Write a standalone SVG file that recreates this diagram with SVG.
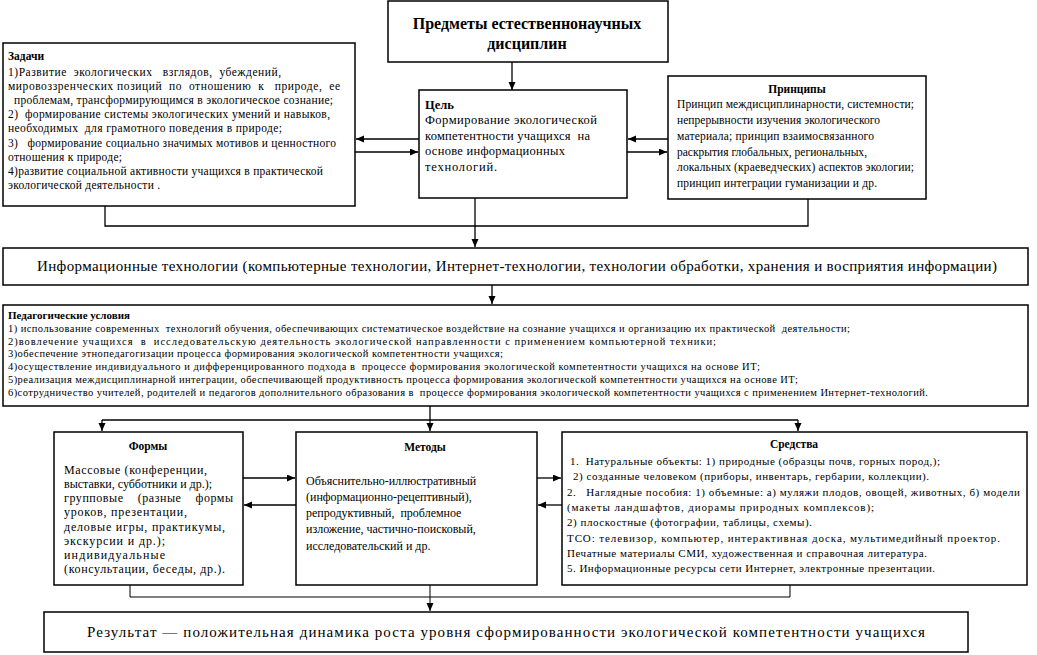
<svg xmlns="http://www.w3.org/2000/svg" width="1037" height="655" viewBox="0 0 1037 655" font-family="'Liberation Serif', 'Times New Roman', 'DejaVu Serif', serif">
<style>
.box{fill:#fff;stroke:#000;stroke-width:1.5}
.c{fill:none;stroke:#000;stroke-width:1.3}
.c2{fill:none;stroke:#000;stroke-width:1}
text{font-family:'Liberation Serif','Times New Roman','DejaVu Serif',serif;fill:#000}
.b{font-weight:bold}
.s115{font-size:11.5px}
.s12{font-size:12px}
.s125{font-size:12.5px}
.s11{font-size:11px}
.s105{font-size:10.5px}
.s15{font-size:15px}
.s16{font-size:16px}
</style>
<defs>
<marker id="ar" markerUnits="userSpaceOnUse" markerWidth="8" markerHeight="8" refX="8" refY="3.5" orient="auto">
<path d="M0,0 L8,3.5 L0,7 z" fill="#000"/>
</marker>
</defs>
<rect width="1037" height="655" fill="#fff"/>

<g id="connectors">
<line class="c" x1="512" y1="62" x2="512" y2="90" marker-end="url(#ar)"/>
<line class="c" x1="419" y1="139" x2="356" y2="139" marker-end="url(#ar)"/>
<line class="c" x1="355" y1="152" x2="418" y2="152" marker-end="url(#ar)"/>
<line class="c" x1="668" y1="139" x2="628" y2="139" marker-end="url(#ar)"/>
<line class="c" x1="627" y1="152" x2="667" y2="152" marker-end="url(#ar)"/>
<polyline class="c" points="105,206 105,226 808,226 808,199"/>
<line class="c" x1="475" y1="198" x2="475" y2="247" marker-end="url(#ar)"/>
<line class="c" x1="492" y1="285" x2="492" y2="304" marker-end="url(#ar)"/>
<line class="c" x1="430" y1="406" x2="430" y2="431" marker-end="url(#ar)"/>
<line class="c" x1="102" y1="420" x2="798" y2="420"/>
<line class="c" x1="102" y1="420" x2="102" y2="431" marker-end="url(#ar)"/>
<line class="c" x1="798" y1="420" x2="798" y2="431" marker-end="url(#ar)"/>
<line class="c" x1="243" y1="478" x2="295" y2="478" marker-end="url(#ar)"/>
<line class="c" x1="296" y1="505" x2="244" y2="505" marker-end="url(#ar)"/>
<line class="c" x1="537" y1="478" x2="561" y2="478" marker-end="url(#ar)"/>
<line class="c" x1="562" y1="505" x2="538" y2="505" marker-end="url(#ar)"/>
<polyline class="c2" points="130,585 130,597 790,597 790,585"/>
<line class="c2" x1="430" y1="585" x2="430" y2="611" marker-end="url(#ar)"/>
</g>

<g id="predmety">
<rect class="box" x="388" y="1" width="280" height="61"/>
<text class="b s16" x="527" y="29" text-anchor="middle">Предметы естественнонаучных</text>
<text class="b s16" x="527" y="49" text-anchor="middle">дисциплин</text>
</g>

<g id="zadachi">
<rect class="box" x="3" y="43" width="352" height="163"/>
<text class="b s115" x="8" y="60">Задачи</text>
<text class="s115" x="8" y="76" xml:space="preserve" textLength="273">1)Развитие  экологических   взглядов,  убеждений,</text>
<text class="s115" x="8" y="90" xml:space="preserve" textLength="332">мировоззренческих позиций  по  отношению  к   природе,  ее</text>
<text class="s115" x="14" y="104" xml:space="preserve" textLength="319">проблемам, трансформирующимся в экологическое сознание;</text>
<text class="s115" x="8" y="118" xml:space="preserve" textLength="322">2)  формирование системы экологических умений и навыков,</text>
<text class="s115" x="8" y="132" xml:space="preserve" textLength="274">необходимых  для грамотного поведения в природе;</text>
<text class="s115" x="8" y="146.5" xml:space="preserve" textLength="328">3)   формирование социально значимых мотивов и ценностного</text>
<text class="s115" x="8" y="160.5" xml:space="preserve" textLength="114">отношения к природе;</text>
<text class="s115" x="8" y="174.5" xml:space="preserve" textLength="315">4)развитие социальной активности учащихся в практической</text>
<text class="s115" x="8" y="189" xml:space="preserve" textLength="152">экологической деятельности .</text>
</g>

<g id="cel">
<rect class="box" x="419" y="90" width="208" height="108"/>
<text class="b s125" x="425" y="109">Цель</text>
<text class="s125" x="425" y="124" textLength="172">Формирование экологической</text>
<text class="s125" x="425" y="139.5" xml:space="preserve" textLength="165">компетентности учащихся  на</text>
<text class="s125" x="425" y="155" textLength="140">основе информационных</text>
<text class="s125" x="425" y="170.5" textLength="72">технологий.</text>
</g>

<g id="principy">
<rect class="box" x="668" y="76" width="258" height="123"/>
<text class="b s115" x="797" y="93" text-anchor="middle">Принципы</text>
<text class="s115" x="677" y="108" textLength="237">Принцип междисциплинарности, системности;</text>
<text class="s115" x="677" y="124" textLength="203">непрерывности изучения экологического</text>
<text class="s115" x="677" y="139.5" textLength="197">материала; принцип взаимосвязанного</text>
<text class="s115" x="677" y="155.5" textLength="190">раскрытия глобальных, региональных,</text>
<text class="s115" x="677" y="171" textLength="237">локальных (краеведческих) аспектов экологии;</text>
<text class="s115" x="677" y="187" textLength="200">принцип интеграции гуманизации и др.</text>
</g>

<g id="it">
<rect class="box" x="3" y="248" width="1025" height="37"/>
<text class="s15" x="37" y="271" textLength="960">Информационные технологии (компьютерные технологии, Интернет-технологии, технологии обработки, хранения и восприятия информации)</text>
</g>

<g id="ped">
<rect class="box" x="3" y="305" width="1025" height="101"/>
<text class="b s11" x="8" y="318.5">Педагогические условия</text>
<text class="s105" x="8" y="332" xml:space="preserve" textLength="842">1) использование современных  технологий обучения, обеспечивающих систематическое воздействие на сознание учащихся и организацию их практической  деятельности;</text>
<text class="s105" x="8" y="344.7" xml:space="preserve" textLength="708">2)вовлечение учащихся  в  исследовательскую деятельность экологической направленности с применением компьютерной техники;</text>
<text class="s105" x="8" y="357.4" textLength="495">3)обеспечение этнопедагогизации процесса формирования экологической компетентности учащихся;</text>
<text class="s105" x="8" y="370.1" xml:space="preserve" textLength="752">4)осуществление индивидуального и дифференцированного подхода в  процессе формирования экологической компетентности учащихся на основе ИТ;</text>
<text class="s105" x="8" y="382.8" textLength="790">5)реализация междисциплинарной интеграции, обеспечивающей продуктивность процесса формирования экологической компетентности учащихся на основе ИТ;</text>
<text class="s105" x="8" y="395.5" xml:space="preserve" textLength="920">6)сотрудничество учителей, родителей и педагогов дополнительного образования в  процессе формирования экологической компетентности учащихся с применением Интернет-технологий.</text>
</g>

<g id="formy">
<rect class="box" x="54" y="432" width="189" height="153"/>
<text class="b s115" x="148" y="450" text-anchor="middle">Формы</text>
<text class="s12" x="64" y="474" textLength="143">Массовые (конференции,</text>
<text class="s12" x="64" y="488" textLength="148">выставки, субботники и др.);</text>
<text class="s12" x="64" y="502" xml:space="preserve" textLength="169">групповые    (разные    формы</text>
<text class="s12" x="64" y="516" textLength="123">уроков, презентации,</text>
<text class="s12" x="64" y="530.5" textLength="161">деловые игры, практикумы,</text>
<text class="s12" x="64" y="544.5" textLength="101">экскурсии и др.);</text>
<text class="s12" x="64" y="558.5" textLength="101">индивидуальные</text>
<text class="s12" x="64" y="573" textLength="161">(консультации, беседы, др.).</text>
</g>

<g id="metody">
<rect class="box" x="296" y="432" width="241" height="153"/>
<text class="b s115" x="425" y="451" text-anchor="middle">Методы</text>
<text class="s12" x="306" y="485">Объяснительно-иллюстративный</text>
<text class="s12" x="306" y="501">(информационно-рецептивный),</text>
<text class="s12" x="306" y="517" xml:space="preserve">репродуктивный,  проблемное</text>
<text class="s12" x="306" y="533">изложение, частично-поисковый,</text>
<text class="s12" x="306" y="550">исследовательский и др.</text>
</g>

<g id="sredstva">
<rect class="box" x="562" y="432" width="465" height="153"/>
<text class="b s115" x="794" y="448" text-anchor="middle">Средства</text>
<text class="s11" x="570" y="465" xml:space="preserve" textLength="370">1.  Натуральные объекты: 1) природные (образцы почв, горных пород,);</text>
<text class="s11" x="573" y="480" textLength="356">2) созданные человеком (приборы, инвентарь, гербарии, коллекции).</text>
<text class="s11" x="567" y="495.5" xml:space="preserve" textLength="453">2.   Наглядные пособия: 1) объемные: а) муляжи плодов, овощей, животных, б) модели</text>
<text class="s11" x="567" y="511" textLength="307">(макеты ландшафтов, диорамы природных комплексов);</text>
<text class="s11" x="567" y="526" textLength="245">2) плоскостные (фотографии, таблицы, схемы).</text>
<text class="s11" x="567" y="541.5" textLength="433">ТСО: телевизор, компьютер, интерактивная доска, мультимедийный проектор.</text>
<text class="s11" x="567" y="557" textLength="360">Печатные материалы СМИ, художественная и справочная литература.</text>
<text class="s11" x="567" y="572" textLength="368">5. Информационные ресурсы сети Интернет, электронные презентации.</text>
</g>

<g id="result">
<rect class="box" x="44" y="612" width="924" height="40"/>
<text class="s15" x="87" y="637" textLength="838">Результат — положительная динамика роста уровня сформированности экологической компетентности учащихся</text>
</g>
</svg>
